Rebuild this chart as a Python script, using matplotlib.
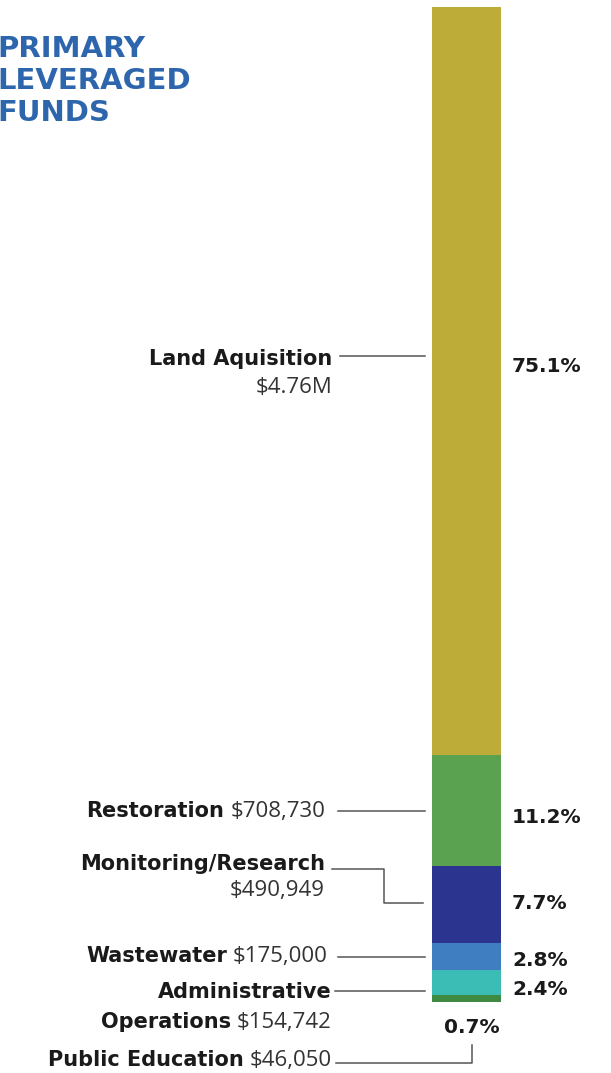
import matplotlib
matplotlib.use("Agg")
import matplotlib.pyplot as plt

# ---- data ----
categories = ["Land Aquisition", "Restoration", "Monitoring/Research",
              "Wastewater", "Administrative\nOperations", "Public Education"]
amount_labels = ["$4.76M", "$708,730", "$490,949", "$175,000", "$154,742", "$46,050"]
values = [4760000, 708730, 490949, 175000, 154742, 46050]
colors = ["#BDAD38", "#5AA150", "#2B3590", "#3F7EC1", "#3BBCB5", "#3E8A42"]
title_lines = ["PRIMARY", "LEVERAGED", "FUNDS"]

W, H = 611, 1073
fig = plt.figure(figsize=(W / 100, H / 100), dpi=100)
fig.patch.set_facecolor("white")

# bar axes (data axes)
bar_top, bar_bot = 7, 1002
axb = fig.add_axes([0, (H - bar_bot) / H, 1, (bar_bot - bar_top) / H])
axb.set_xlim(0, W)
total = sum(values)
axb.set_ylim(0, total)
axb.axis("off")
bottom = 0
for v, c in zip(values[::-1], colors[::-1]):
    axb.bar(466.5, v, width=69, bottom=bottom, color=c, linewidth=0)
    bottom += v

# overlay axes in pixel coordinates for annotations
ax = fig.add_axes([0, 0, 1, 1], facecolor="none")
ax.set_xlim(0, W)
ax.set_ylim(H, 0)
ax.axis("off")

renderer = fig.canvas.get_renderer()

BFONT = "DejaVu Sans"
RFONT = "Open Sans"
BFS = 15
RFS = 16
TXT = "#1a1a1a"
AMT = "#333333"
LINE = "#555555"
lw = 1.1

def bold(x, y, s, ha="right", fs=BFS):
    return ax.text(x, y, s, ha=ha, va="baseline", fontsize=fs,
                   fontweight="bold", family=BFONT, color=TXT)

def regular(x, y, s):
    return ax.text(x, y, s, ha="right", va="baseline", fontsize=RFS,
                   family=RFONT, color=AMT)

def inline(x, y, b, amount, gap=6):
    t = regular(x, y, amount)
    bb = t.get_window_extent(renderer=renderer)
    left = ax.transData.inverted().transform((bb.x0, 0))[0]
    bold(left - gap, y, b)

pcts = [v / total * 100 for v in values]

# Land Aquisition
bold(332, 365, categories[0])
regular(332, 393, amount_labels[0])
ax.plot([340, 425], [356, 356], color=LINE, lw=lw)
# Restoration
inline(325, 817, categories[1], amount_labels[1])
ax.plot([338, 425], [810.5, 810.5], color=LINE, lw=lw)
# Monitoring/Research
bold(325, 870, categories[2])
regular(325, 896, amount_labels[2])
ax.plot([332, 384, 384, 423], [869, 869, 903, 903], color=LINE, lw=lw)
# Wastewater
inline(328, 962, categories[3], amount_labels[3])
ax.plot([338, 425], [957, 957], color=LINE, lw=lw)
# Administrative Operations
adm1, adm2 = categories[4].split("\n")
bold(332, 998, adm1)
inline(332, 1028, adm2, amount_labels[4])
ax.plot([335, 425], [991, 991], color=LINE, lw=lw)
# Public Education
inline(332, 1066, categories[5], amount_labels[5])
ax.plot([336, 471.5, 471.5], [1062.5, 1062.5, 1045], color=LINE, lw=lw)

# percentages
pct_pos = [(512, 372, "left"), (512, 823, "left"), (512, 909, "left"),
           (512, 966, "left"), (512, 995, "left"), (472, 1033, "center")]
for p, (x, y, ha) in zip(pcts, pct_pos):
    bold(x, y, f"{p:.1f}%", ha=ha, fs=14.5)

# title
for i, line in enumerate(title_lines):
    ax.text(-3, 57 + i * 32, line, ha="left", va="baseline", fontsize=21,
            fontweight="bold", family="DejaVu Sans", color="#2D66AD")

fig.savefig("out.png", dpi=100)
